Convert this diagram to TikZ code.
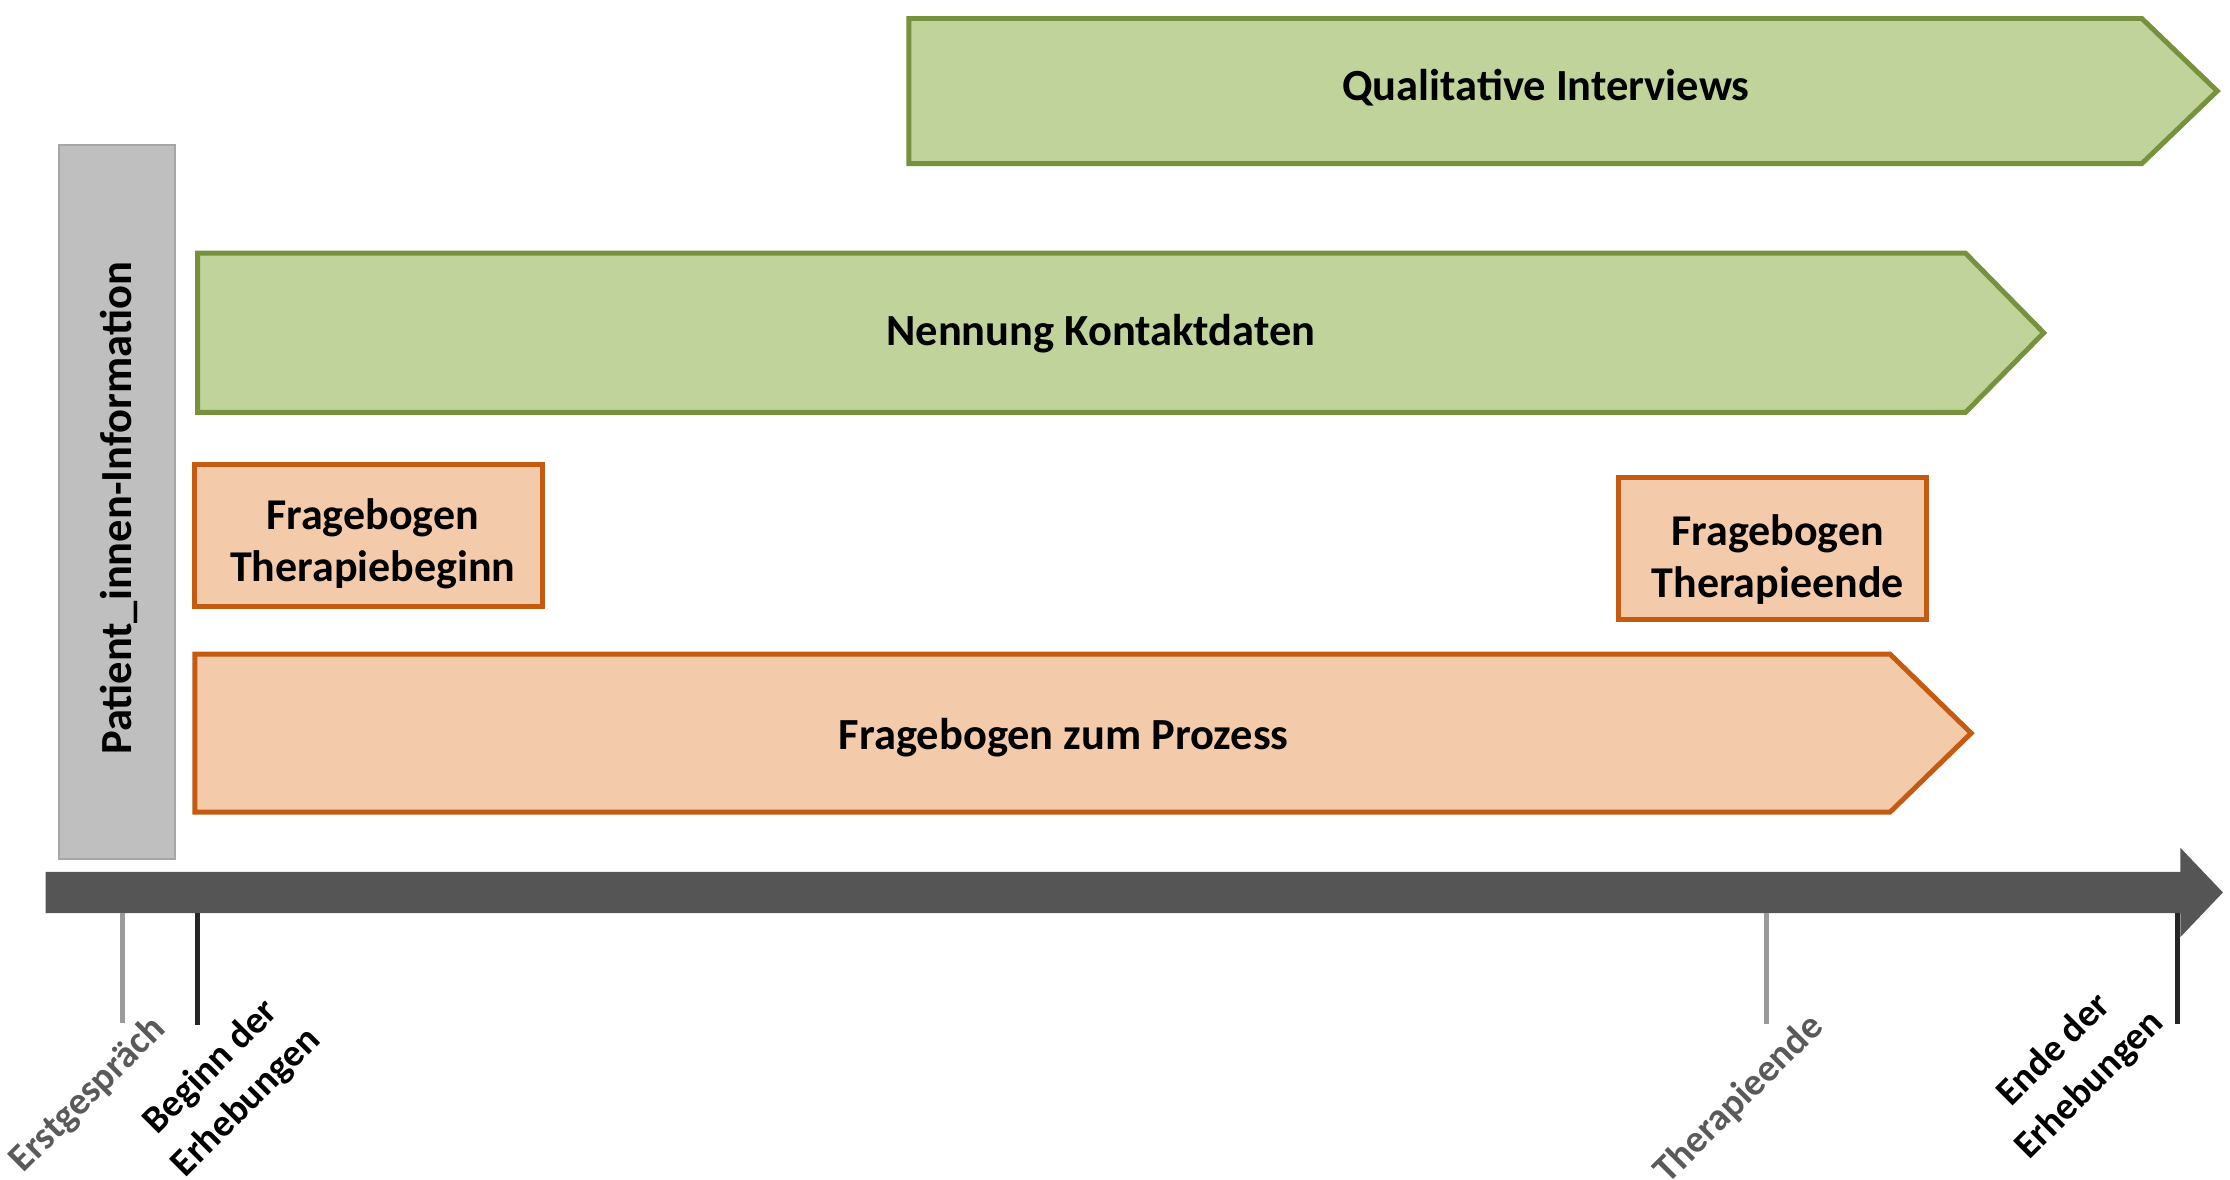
\documentclass[tikz,border=0pt]{standalone}
\usepackage{fontspec}
\setmainfont{Carlito}
\usepackage{tikz}
\usetikzlibrary{positioning}
\definecolor{greenfill}{HTML}{C0D39B}
\definecolor{greenline}{HTML}{76923C}
\definecolor{orangefill}{HTML}{F3CAAA}
\definecolor{orangeline}{HTML}{C55A11}
\definecolor{infofill}{HTML}{BFBFBF}
\definecolor{infoline}{HTML}{A6A6A6}
\definecolor{axisgray}{HTML}{555555}
\definecolor{ticklight}{HTML}{9A9A9A}
\definecolor{labelgray}{HTML}{5A5A5A}
\tikzset{
    greenbar/.style={
        draw=greenline,
        fill=greenfill,
        line width=0.7mm
    },
    orangebar/.style={
        draw=orangeline,
        fill=orangefill,
        line width=0.7mm
    },
    orangebox/.style={
        draw=orangeline,
        fill=orangefill,
        line width=0.7mm,
        inner sep=0pt,
        minimum height=19.9mm
    },
    boxtext/.style={
        align=center,
        inner sep=0pt,
        font=\bfseries\fontsize{17.6}{20.8}\selectfont
    },
    bartext/.style={
        anchor=base,
        font=\bfseries\fontsize{17.8}{20}\selectfont
    },
    tickline/.style={line width=0.7mm},
    timelabel/.style={
        rotate=45,
        align=center,
        inner sep=0pt,
        font=\bfseries\fontsize{15.4}{20}\selectfont
    }
}

\begin{document}
\begin{tikzpicture}[x=0.2mm, y=-0.2mm]
    \useasboundingbox (0,0) rectangle (1568,829);

    % Phases
    \draw[greenbar] (639,13) -- (1506,13) -- (1559,64) -- (1506,115) -- (639,115) -- cycle;
    \draw[greenbar] (139,178) -- (1382,178) -- (1437,234) -- (1382,290) -- (139,290) -- cycle;
    \draw[orangebar] (137,460) -- (1329,460) -- (1386,515.5) -- (1329,571) -- (137,571) -- cycle;
    \node[bartext] (quali) at (1087,71) {Qualitative Interviews};
    \node[bartext] (kontakt) at (774,243) {Nennung Kontaktdaten};
    \node[bartext] (prozess) at (748,527) {Fragebogen zum Prozess};

    % Questionnaires
    \node[orangebox, minimum width=48.9mm] (beginn) at (259,376.5) {};
    \node[orangebox, minimum width=43.3mm] (ende) at (1246,385.5) {};
    \node[boxtext] (beginntext) at (262,382.5) {Fragebogen\\Therapiebeginn};
    \node[boxtext] (endetext) at (1250,393.5) {Fragebogen\\Therapieende};

    % Information
    \node[draw=infoline, fill=infofill, line width=0.3mm,
          minimum width=16.3mm, minimum height=100.5mm, inner sep=0pt] (info) at (82.5,353) {};
    \node[rotate=90, inner sep=0pt, font=\bfseries\fontsize{17.8}{20}\selectfont]
          (infotext) at (83.5,357.5) {Patient\_innen-Information};

    % Time axis
    \fill[axisgray] (32,613) -- (1533,613) -- (1533,596) -- (1563,627.5) -- (1533,659)
        -- (1533,642) -- (32,642) -- cycle;

    % Ticks
    \coordinate (erst top) at (86,642);
    \coordinate (erst end) at (86,719);
    \coordinate (start top) at (139,642);
    \coordinate (start end) at (139,721);
    \coordinate (thend top) at (1242,642);
    \coordinate (thend end) at (1242,720);
    \coordinate (stop top) at (1531,642);
    \coordinate (stop end) at (1531,720);
    \draw[tickline, ticklight] (erst top) -- (erst end);
    \draw[tickline, black!85] (start top) -- (start end);
    \draw[tickline, ticklight] (thend top) -- (thend end);
    \draw[tickline, black!85] (stop top) -- (stop end);

    % Labels
    \node[timelabel, text=labelgray] (erstlabel) at (62,770) {Erstgespräch};
    \node[timelabel] (startlabel) at (161,763) {Beginn der\\Erhebungen};
    \node[timelabel, text=labelgray] (thendlabel) at (1223,773) {Therapieende};
    \node[timelabel] (stoplabel) at (1457,751) {Ende der\\Erhebungen};
\end{tikzpicture}
\end{document}
